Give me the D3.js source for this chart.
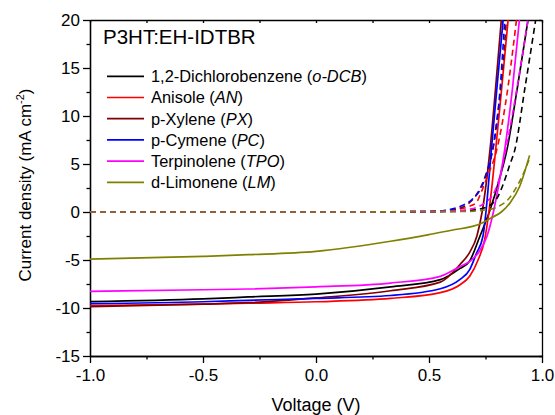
<!DOCTYPE html>
<html>

<head>
    <meta charset="utf-8">
    <script src="https://d3js.org/d3.v7.min.js"></script>
    <title>P3HT:EH-IDTBR J-V</title>
    <style>
        body {
            margin: 0;
            background-color: #ffffff;
            font-family: Arial, 'Liberation Sans', sans-serif;
        }
    </style>
</head>

<body>
    <svg id="chart" width="555" height="415"></svg>

    <script>
        // legend names (plain part + italic abbreviation)
        var solventNames = ["1,2-Dichlorobenzene", "Anisole", "p-Xylene", "p-Cymene", "Terpinolene", "d-Limonene"];
        var solventAbbr = ["o-DCB", "AN", "PX", "PC", "TPO", "LM"];
        var seriesColors = ["#000000", "#ff0000", "#800000", "#0000ff", "#ff00ff", "#808000"];

        // light J-V curves, [voltage, current density]
        var dcbLight = [[-1, -9.34], [-0.5, -9.05], [-0.3, -8.85], [0, -8.55], [0.33, -7.8], [0.55, -7.05], [0.636, -5.9], [0.68, -5.1], [0.724, -2.6], [0.77, 0.2], [0.81, 3.3], [0.845, 6.5], [0.89, 12.8], [0.938, 20]];
        var anLight = [[-1, -9.76], [-0.5, -9.6], [-0.3, -9.5], [0, -9.35], [0.33, -9.0], [0.55, -8.4], [0.636, -7.6], [0.68, -6.7], [0.717, -5.0], [0.747, -2.8], [0.765, 0], [0.78, 3.0], [0.795, 6.5], [0.82, 12.5], [0.85, 20]];
        var pxLight = [[-1, -9.86], [-0.5, -9.6], [-0.3, -9.45], [0, -8.95], [0.33, -8.2], [0.55, -7.3], [0.636, -5.5], [0.68, -4.2], [0.712, -2.5], [0.735, 0], [0.77, 6.5], [0.795, 13], [0.82, 20]];
        var pcLight = [[-1, -9.55], [-0.5, -9.35], [-0.3, -9.2], [0, -9.0], [0.33, -8.7], [0.55, -8.0], [0.636, -7.05], [0.68, -6.0], [0.71, -4.3], [0.739, -2.5], [0.752, 0], [0.776, 6.5], [0.80, 12.8], [0.828, 20]];
        var tpoLight = [[-1, -8.27], [-0.5, -8.1], [-0.3, -8.02], [0, -7.8], [0.33, -7.4], [0.55, -6.7], [0.636, -5.7], [0.68, -5.15], [0.72, -4.2], [0.757, -2.5], [0.785, 0], [0.81, 3.0], [0.835, 6.5], [0.87, 13], [0.90, 20]];
        var lmLight = [[-1, -4.9], [-0.5, -4.62], [-0.3, -4.45], [0, -4.1], [0.33, -3.05], [0.5, -2.35], [0.6, -1.9], [0.73, -1.2], [0.776, -0.6], [0.82, 0], [0.86, 1.0], [0.90, 2.6], [0.945, 5.9]];

        // dark J-V curves
        var dcbDark = [[-1, 0], [0, 0], [0.6, 0.05], [0.72, 0.3], [0.77, 0.7], [0.80, 1.4], [0.83, 3.0], [0.857, 4.9], [0.88, 6.5], [0.925, 13], [0.972, 20]];
        var anDark = [[-1, 0], [0, 0], [0.5, 0.05], [0.63, 0.3], [0.68, 0.6], [0.71, 1.0], [0.73, 2.0], [0.76, 3.8], [0.80, 6.5], [0.84, 11.5], [0.887, 20]];
        var pxDark = [[-1, 0], [0, 0], [0.5, 0.05], [0.62, 0.3], [0.67, 0.8], [0.71, 1.8], [0.75, 3.8], [0.78, 6.3], [0.80, 9.5], [0.83, 16], [0.842, 20]];
        var pcDark = [[-1, 0], [0, 0], [0.5, 0.05], [0.6, 0.3], [0.65, 0.7], [0.69, 1.3], [0.74, 3.0], [0.77, 5.3], [0.79, 7.5], [0.81, 11.5], [0.835, 20]];
        var tpoDark = [[-1, 0], [0, 0], [0.6, 0.1], [0.7, 0.4], [0.75, 1.0], [0.783, 1.8], [0.81, 3.4], [0.84, 6.5], [0.89, 13], [0.938, 20]];
        var lmDark = [[-1, 0], [0, 0], [0.65, 0.05], [0.75, 0.2], [0.80, 0.5], [0.85, 1.3], [0.89, 2.7], [0.925, 4.4], [0.945, 5.6]];

        var lightCurves = [dcbLight, anLight, pxLight, pcLight, tpoLight, lmLight];
        var darkCurves = [dcbDark, anDark, pxDark, pcDark, tpoDark, lmDark];

        var xTicks = [-1.0, -0.5, 0.0, 0.5, 1.0];
        var xMinorTicks = [-0.75, -0.25, 0.25, 0.75];
        var yTicks = [-15, -10, -5, 0, 5, 10, 15, 20];
        var yMinorTicks = [-12.5, -7.5, -2.5, 2.5, 7.5, 12.5, 17.5];

        var canvas = d3.select("#chart");
        var margin = { top: 20, right: 13, bottom: 59, left: 90 };
        var width = canvas.attr("width") - margin.left - margin.right;
        var height = canvas.attr("height") - margin.top - margin.bottom;

        var group = canvas.append("g")
            .attr("transform", "translate(" + margin.left + "," + margin.top + ")");

        var xScale = d3.scaleLinear().domain([-1, 1]).range([0, width]);
        var yScale = d3.scaleLinear().domain([-15, 20]).range([height, 0]);

        group.append("clipPath")
            .attr("id", "plotClip")
            .append("rect")
            .attr("width", width)
            .attr("height", height);

        // axes
        var xFmt = function (d) { return d.toFixed(1); };
        var yFmt = function (d) { return String(d); };

        group.append("g")
            .attr("transform", "translate(0," + height + ")")
            .call(d3.axisBottom(xScale).tickValues(xTicks).tickFormat(xFmt).tickSize(7).tickPadding(6).tickSizeOuter(0));
        group.append("g")
            .attr("transform", "translate(0," + height + ")")
            .call(d3.axisBottom(xScale).tickValues(xMinorTicks).tickFormat("").tickSize(3.5).tickSizeOuter(0));
        group.append("g")
            .call(d3.axisLeft(yScale).tickValues(yTicks).tickFormat(yFmt).tickSize(7).tickPadding(3).tickSizeOuter(0));
        group.append("g")
            .call(d3.axisLeft(yScale).tickValues(yMinorTicks).tickFormat("").tickSize(3.5).tickSizeOuter(0));

        // mirrored inward ticks on top and right
        group.append("g")
            .call(d3.axisTop(xScale).tickValues(xTicks.concat(xMinorTicks)).tickFormat("").tickSize(-3).tickSizeOuter(0));
        group.append("g")
            .attr("transform", "translate(" + width + ",0)")
            .call(d3.axisRight(yScale).tickValues(yTicks.concat(yMinorTicks)).tickFormat("").tickSize(-3).tickSizeOuter(0));

        group.selectAll(".domain, .tick line")
            .style("stroke", "#000")
            .style("stroke-width", "1.3px");

        group.selectAll(".tick text")
            .style("font-family", "Arial, 'Liberation Sans', sans-serif")
            .style("font-size", "17px")
            .style("fill", "#000");

        // curves
        var line = d3.line()
            .x(function (d) { return xScale(d[0]); })
            .y(function (d) { return yScale(d[1]); })
            .curve(d3.curveMonotoneX);

        var curveLayer = group.append("g").attr("clip-path", "url(#plotClip)");

        lightCurves.forEach(function (c, i) {
            curveLayer.append("path")
                .datum(c)
                .attr("fill", "none")
                .attr("stroke", seriesColors[i])
                .attr("stroke-width", 1.7)
                .attr("d", line);
        });
        darkCurves.forEach(function (c, i) {
            curveLayer.append("path")
                .datum(c)
                .attr("fill", "none")
                .attr("stroke", seriesColors[i])
                .attr("stroke-width", 1.6)
                .attr("stroke-dasharray", "6,4")
                .attr("d", line);
        });

        // title inside the frame
        group.append("text")
            .attr("x", 13)
            .attr("y", 23.5)
            .style("font-size", "20.5px")
            .style("fill", "#000")
            .text("P3HT:EH-IDTBR");

        // legend
        var legend = group.append("g").attr("transform", "translate(17,56.3)");
        solventNames.forEach(function (name, i) {
            var row = legend.append("g").attr("transform", "translate(0," + (i * 21.2) + ")");
            row.append("line")
                .attr("x1", 0).attr("x2", 37)
                .attr("stroke", seriesColors[i])
                .attr("stroke-width", 1.7);
            var t = row.append("text")
                .attr("x", 44)
                .attr("dy", "0.36em")
                .style("font-size", "16.4px")
                .style("fill", "#000");
            t.append("tspan").text(name + " (");
            t.append("tspan").style("font-style", "italic").text(solventAbbr[i]);
            t.append("tspan").text(")");
        });

        // axis titles
        group.append("text")
            .attr("x", width / 2)
            .attr("y", height + 55)
            .attr("text-anchor", "middle")
            .style("font-size", "18px")
            .text("Voltage (V)");

        var yLabel = group.append("text")
            .attr("transform", "translate(-59," + (height / 2 - 3) + ") rotate(-90)")
            .attr("text-anchor", "middle")
            .style("font-size", "17px");
        yLabel.append("tspan").text("Current density (mA cm");
        yLabel.append("tspan").attr("dy", "-7").style("font-size", "11px").text("-2");
        yLabel.append("tspan").attr("dy", "7").text(")");
    </script>
</body>
</html>
